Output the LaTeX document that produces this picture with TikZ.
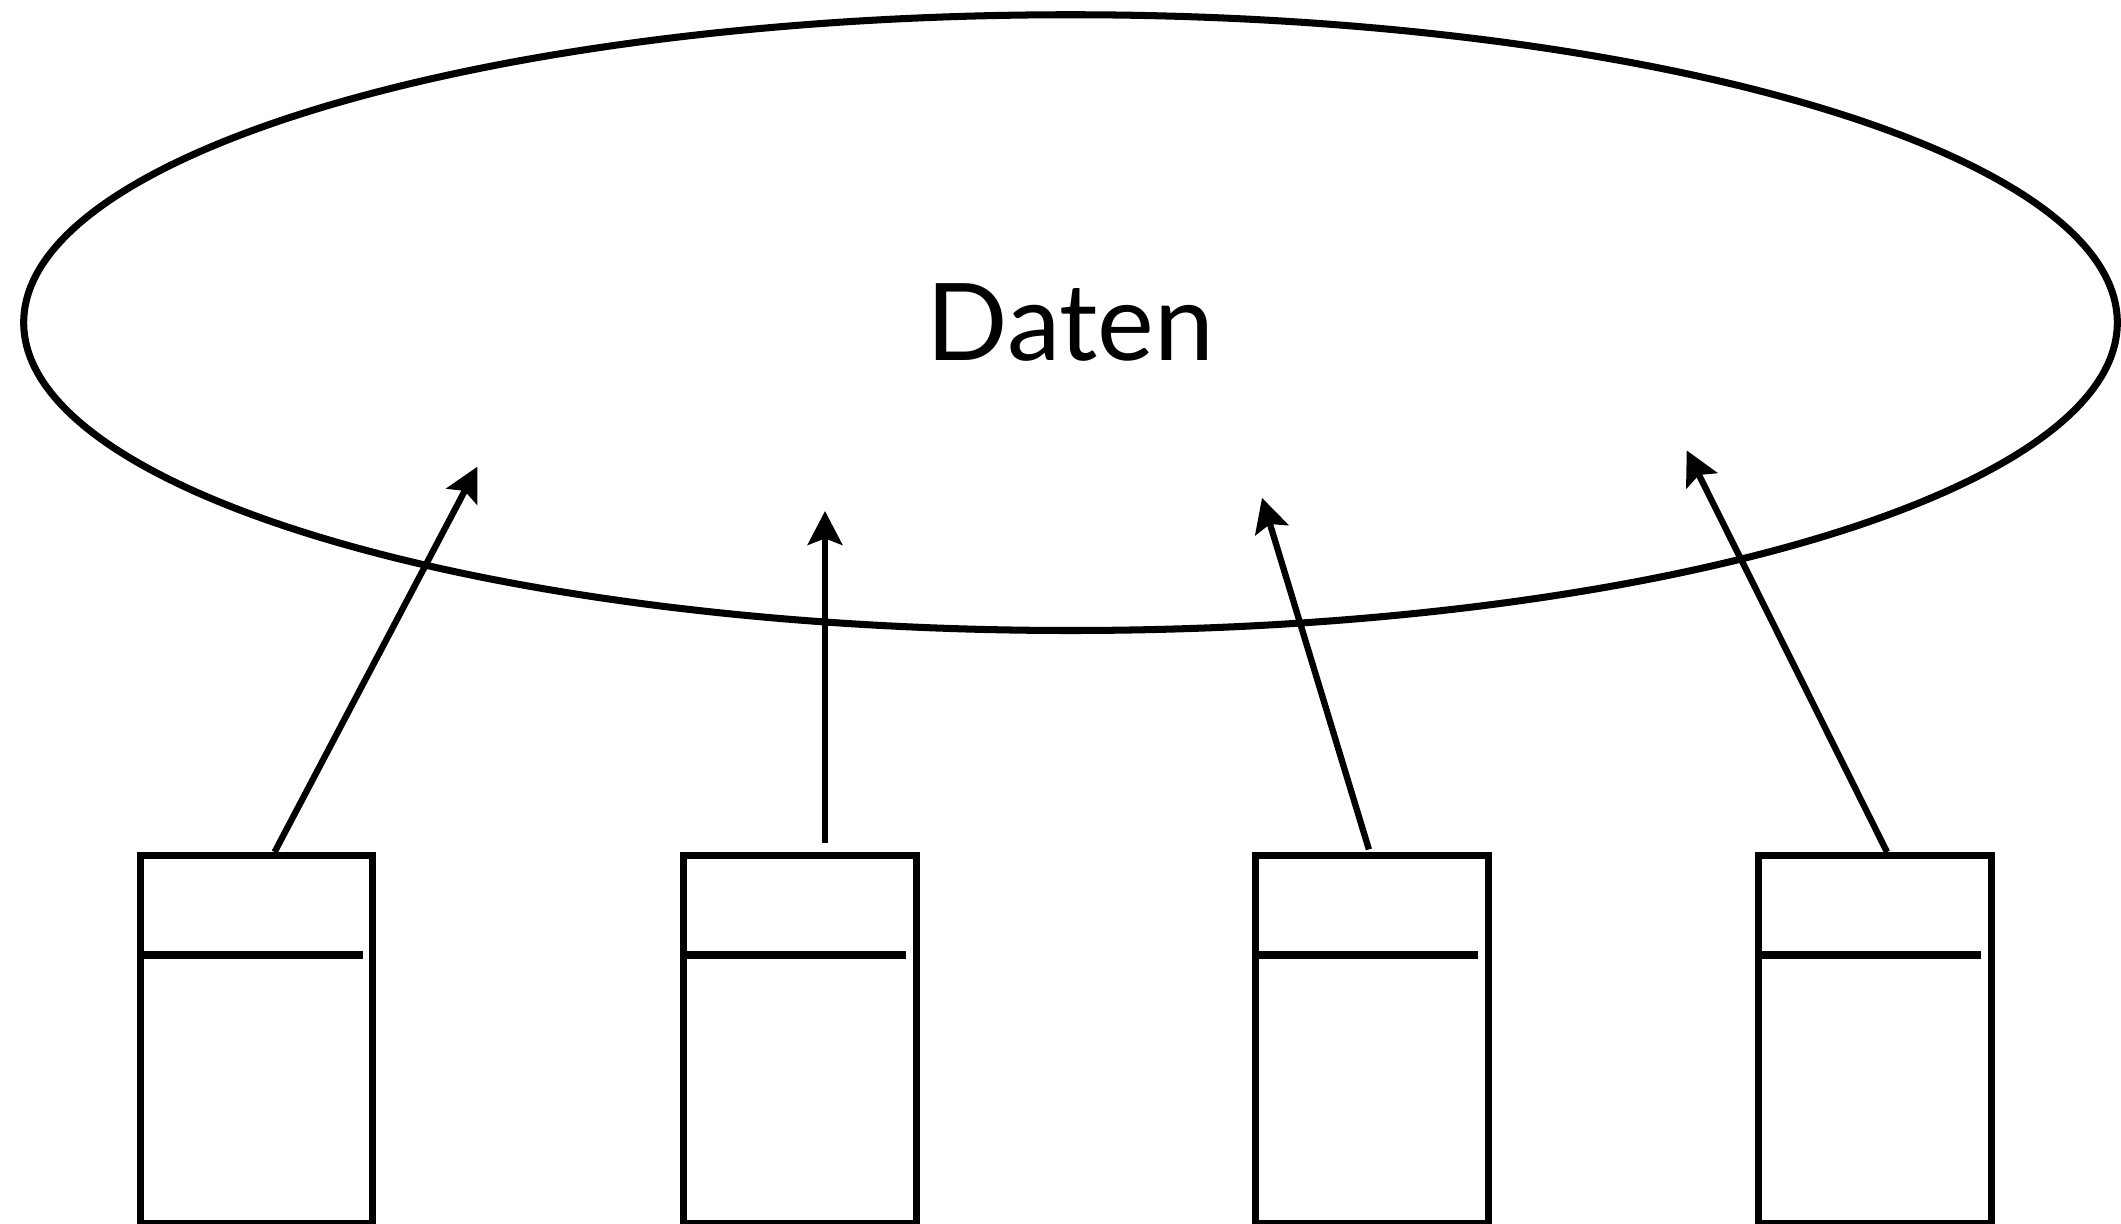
\documentclass[tikz,border=0pt]{standalone}
\usepackage{fontspec}
\setmainfont{Lato}
\usetikzlibrary{shapes.geometric,arrows.meta,calc}
\begin{document}
\begin{tikzpicture}[x=0.01cm,y=-0.01cm,
  boxnode/.style={draw,line width=2.05pt,rectangle,minimum width=2.326cm,minimum height=3.68cm,inner sep=0pt,anchor=north west},
  divider/.style={line width=2.05pt,line cap=butt},
  arr/.style={line width=1.8pt,-{Stealth[length=9.6pt,width=9.8pt,inset=1.8pt]}},
  cloud/.style={draw,ellipse,line width=2.0pt,inner sep=0pt,minimum width=20.924cm,minimum height=6.154cm}]
\useasboundingbox (0,0) rectangle (2121,1223);
\node[cloud,font=\fontsize{30.5}{36}\selectfont] (daten) at (1070.5,322.6) {Daten};
\foreach \i/\x in {1/136.5,2/680.2,3/1252.2,4/1755.2}{
  \node[boxnode] (b\i) at (\x,852) {};
  \coordinate (dl\i) at (\x,955);
  \coordinate (dr\i) at ($(\x,955)+(226,0)$);
  \draw[divider] (dl\i) -- (dr\i);
}
\coordinate (s1) at (274.6,852);  \coordinate (t1) at (477.5,466.6);
\coordinate (s2) at (825,842.6);  \coordinate (t2) at (825,511);
\coordinate (s3) at (1368.9,849.4); \coordinate (t3) at (1262,497.8);
\coordinate (s4) at (1887,852);   \coordinate (t4) at (1686.7,450.4);
\foreach \i in {1,2,3,4}{\draw[arr] (s\i) -- (t\i);}
\end{tikzpicture}
\end{document}
